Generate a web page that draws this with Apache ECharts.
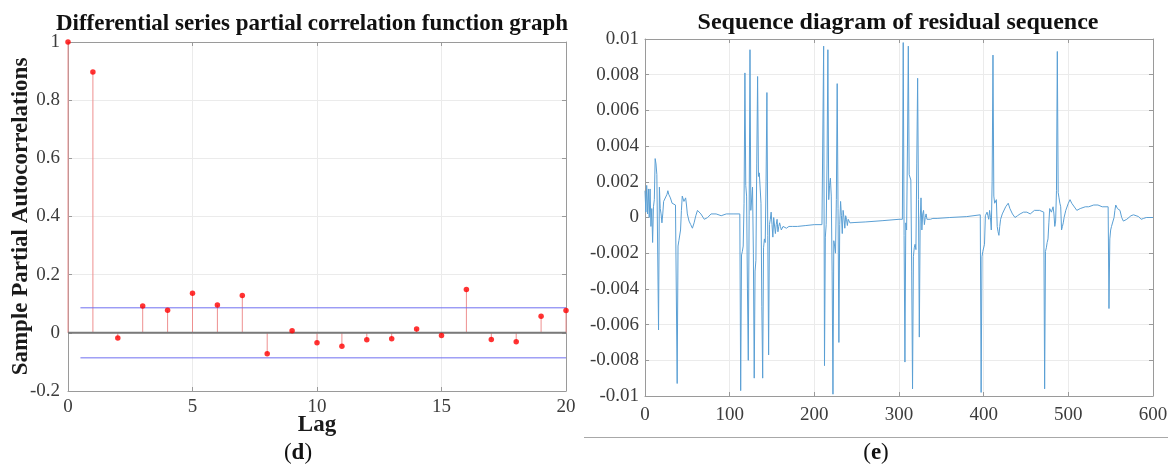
<!DOCTYPE html>
<html><head><meta charset="utf-8">
<script src="https://cdn.jsdelivr.net/npm/echarts@6/dist/echarts.min.js"></script>
<style>html,body{margin:0;padding:0;background:#fff}#c{width:1172px;height:470px}</style>
</head><body><div id="c"></div>
<script>
// ---- Panel (d): partial autocorrelation ----
const pacfTitle = 'Differential series partial correlation function graph';
const pacfYName = 'Sample Partial Autocorrelations';
const pacfXName = 'Lag';
const pacfLags = [0,1,2,3,4,5,6,7,8,9,10,11,12,13,14,15,16,17,18,19,20];
const pacfValues = [1,0.897,-0.018,0.092,0.078,0.136,0.096,0.128,-0.072,0.007,-0.034,-0.046,-0.024,-0.020,0.013,-0.009,0.149,-0.023,-0.031,0.057,0.077];
const confBound = 0.086;
const confLagStart = 0.5;
const confLagEnd = 20;

// ---- Panel (e): residual sequence ----
const resTitle = 'Sequence diagram of residual sequence';
const residualIndex = [
  0,1,2,3,4,5,6,7,8,9,10,11,12,13,14,15,16,17,18,19,20,21,22,23,24,26,27,28,30,32,34,36,37,
  38,39,40,41,42,43,44,45,46,47,48,49,50,52,54,56,58,60,62,64,66,68,70,72,74,76,78,80,84,90,96,104,112,
  113,114,115,116,117,118,119,120,121,122,123,124,125,126,127,128,129,130,131,132,133,134,135,136,137,
  138,139,140,141,142,143,144,145,146,147,148,149,150,151,152,153,154,155,156,157,158,159,160,161,163,
  165,167,170,174,180,190,200,209,
  210,211,212,213,214,215,216,217,218,219,220,221,222,223,224,225,226,227,228,229,230,231,232,233,234,
  235,236,237,238,239,240,241,242,244,248,260,280,300,304,
  305,306,307,308,309,310,311,312,313,314,315,316,317,318,319,320,321,322,323,324,325,326,327,328,329,
  330,331,332,333,334,335,337,340,345,360,380,396,
  397,398,399,400,401,402,403,404,405,406,407,408,409,410,411,412,413,414,415,416,417,418,419,420,422,
  424,426,429,431,432,434,437,440,443,447,451,455,460,466,471,
  472,473,474,475,476,477,478,479,480,481,482,483,484,485,486,487,488,489,490,491,492,493,494,495,496,
  497,500,502,504,506,510,514,516,520,524,530,535,540,547,
  548,549,550,551,552,553,554,555,556,557,558,559,560,561,563,565,567,569,571,574,577,580,583,586,589,
  592,596,600
];
const residualValue = [
  0.0015,0.0003,0.0018,0.0002,0.0016,0.0000,0.0016,-0.0005,0.0005,-0.0014,0.0006,0.0010,0.0033,0.0030,0.0024,0.0025,-0.0063,0.0017,0.0005,0.0002,-0.0003,0.0002,0.0009,0.0008,0.0010,0.0013,0.0015,0.0013,0.0011,0.0008,0.0008,0.0007,0.0007,
  -0.0093,-0.0016,-0.0013,-0.0012,-0.0007,0.0004,0.0012,0.0011,0.0009,0.0010,0.0011,0.0007,0.0002,-0.0002,-0.0004,-0.0006,-0.0003,0.0001,0.0004,0.0004,0.0002,0.0001,-0.0001,-0.0001,0.0000,0.0001,0.0002,0.0002,0.0002,0.0001,0.0002,0.0002,0.0002,
  -0.0097,-0.0021,-0.0019,-0.0016,0.0008,0.0081,0.0018,0.0012,-0.0040,-0.0080,0.0001,0.0094,0.0004,0.0005,0.0017,-0.0020,-0.0090,-0.0030,-0.0024,0.0030,0.0079,0.0023,0.0025,0.0025,0.0008,
  -0.0050,-0.0090,-0.0017,-0.0012,-0.0014,0.0020,0.0070,-0.0010,-0.0077,-0.0004,-0.0001,0.0003,-0.0004,-0.0011,0.0000,0.0001,-0.0009,-0.0004,-0.0001,-0.0008,-0.0005,-0.0003,-0.0005,-0.0007,-0.0005,
  -0.0006,-0.0006,-0.0005,-0.0005,-0.0005,-0.00045,-0.0004,-0.0004,
  -0.0003,0.0096,-0.0083,-0.0011,-0.0004,0.0030,0.0094,0.0010,0.0018,0.0022,0.0012,-0.0030,-0.0099,-0.0013,-0.0016,-0.0020,0.0010,0.0075,0.0005,-0.0070,-0.0004,0.0009,0.0001,-0.0009,0.0004,
  0.0000,-0.0006,0.0001,-0.0001,-0.00045,-0.0001,-0.0002,-0.0003,-0.0003,-0.00028,-0.00025,-0.00018,-0.0001,-0.0001,
  0.0098,-0.0010,-0.0081,-0.0003,-0.0007,0.0040,0.0096,0.0024,0.0024,0.0021,-0.0030,-0.0096,-0.0022,-0.0017,-0.0015,-0.0018,0.0030,0.0078,0.0010,-0.0067,-0.0002,0.0011,-0.0007,0.0002,0.0004,
  -0.0004,0.0000,0.0002,-0.0001,-0.0001,0.0000,-0.0001,-0.00005,-0.00005,0.0000,0.00005,0.00015,
  -0.0098,-0.0022,-0.0019,-0.0018,-0.0015,0.0001,0.0002,0.0003,0.0001,-0.0001,0.0004,0.0000,-0.0007,0.0020,0.0091,0.0012,0.0008,0.0009,0.0010,-0.0005,-0.0008,-0.0010,-0.0005,-0.0001,0.0002,
  0.0003,0.0006,0.0008,0.0005,0.0004,0.0002,0.0000,0.0001,0.0002,0.0003,0.0003,0.0002,0.0004,0.0004,0.0003,
  -0.0096,-0.0019,-0.0017,-0.0014,-0.0012,-0.0003,0.0005,0.0004,0.0003,0.0004,0.0006,0.0002,-0.0005,-0.0002,0.0015,0.0093,0.0014,0.0011,0.0008,0.0006,-0.0007,-0.0005,-0.0003,0.0000,0.0002,
  0.0004,0.0008,0.0010,0.0008,0.0007,0.0004,0.0005,0.0006,0.0006,0.0006,0.0007,0.0007,0.0006,0.0006,
  -0.0051,-0.0012,-0.0007,-0.0005,-0.0006,-0.0004,0.0000,0.0004,0.0007,0.0006,0.0005,0.0005,0.0006,0.0004,0.0000,-0.0002,-0.0003,-0.0001,0.0000,0.0001,0.00015,0.0001,0.00005,-0.0001,-0.00005,
  0.0000,0.0000,0.0000
];

const SERIF = "'Liberation Serif','DejaVu Serif',serif";
const fmt = v => String(parseFloat(v.toFixed(6)));

function mainAxis(gridIndex, position, min, max, interval, margin) {
  return {
    type: 'value', gridIndex, position, min, max, interval,
    axisLine: {show: true, onZero: false, lineStyle: {color: '#9a9a9a', width: 1}},
    axisTick: {show: true, inside: true, length: 4, lineStyle: {color: '#9a9a9a'}},
    axisLabel: {show: true, margin, color: '#3c3c3c', fontFamily: SERIF, fontSize: 19, formatter: fmt},
    splitLine: {show: true, lineStyle: {color: '#ebebeb', width: 1}}
  };
}
function boxAxis(gridIndex, position, min, max, interval) {
  return {
    type: 'value', gridIndex, position, min, max, interval,
    axisLine: {show: true, onZero: false, lineStyle: {color: '#9a9a9a', width: 1}},
    axisTick: {show: true, inside: true, length: 4, lineStyle: {color: '#9a9a9a'}},
    axisLabel: {show: false}, splitLine: {show: false}
  };
}

const chart = echarts.init(document.getElementById('c'), null, {renderer: 'canvas'});

const yLeft0 = mainAxis(0, 'left', -0.2, 1, 0.2, 8);
yLeft0.name = pacfYName;
yLeft0.nameLocation = 'middle';
yLeft0.nameGap = 35;
yLeft0.nameMoveOverlap = false;
yLeft0.nameTextStyle = {fontFamily: SERIF, fontWeight: 'bold', fontSize: 23, color: '#1a1a1a'};
const xBottom0 = mainAxis(0, 'bottom', 0, 20, 5, 7);
xBottom0.name = pacfXName;
xBottom0.nameLocation = 'middle';
xBottom0.nameGap = 23;
xBottom0.nameMoveOverlap = false;
xBottom0.nameTextStyle = {fontFamily: SERIF, fontWeight: 'bold', fontSize: 23, color: '#1a1a1a', verticalAlign: 'top'};

const option = {
  animation: false,
  backgroundColor: '#fff',
  grid: [
    {left: 68, top: 42, width: 498, height: 349},
    {left: 645, top: 39, width: 508, height: 357}
  ],
  xAxis: [
    xBottom0,
    boxAxis(0, 'top', 0, 20, 5),
    mainAxis(1, 'bottom', 0, 600, 100, 10),
    boxAxis(1, 'top', 0, 600, 100)
  ],
  yAxis: [
    yLeft0,
    boxAxis(0, 'right', -0.2, 1, 0.2),
    mainAxis(1, 'left', -0.01, 0.01, 0.002, 6),
    boxAxis(1, 'right', -0.01, 0.01, 0.002)
  ],
  series: [
    {
      type: 'custom', xAxisIndex: 0, yAxisIndex: 0, silent: true, z: 2,
      data: pacfLags.map((l, i) => [l, pacfValues[i]]),
      renderItem: (params, api) => {
        const p0 = api.coord([api.value(0), 0]);
        const p1 = api.coord([api.value(0), api.value(1)]);
        return {type: 'line', shape: {x1: p0[0], y1: p0[1], x2: p1[0], y2: p1[1]},
                style: {stroke: '#ee9090', lineWidth: 1}};
      }
    },
    {
      type: 'line', xAxisIndex: 0, yAxisIndex: 0, silent: true, z: 3, symbol: 'none',
      data: [[pacfLags[0], 0], [pacfLags[pacfLags.length - 1], 0]],
      lineStyle: {color: '#7a7a7a', width: 2}
    },
    {
      type: 'line', xAxisIndex: 0, yAxisIndex: 0, silent: true, z: 3, symbol: 'none',
      data: [[confLagStart, confBound], [confLagEnd, confBound]],
      lineStyle: {color: '#6f6ff0', width: 1}
    },
    {
      type: 'line', xAxisIndex: 0, yAxisIndex: 0, silent: true, z: 3, symbol: 'none',
      data: [[confLagStart, -confBound], [confLagEnd, -confBound]],
      lineStyle: {color: '#6f6ff0', width: 1}
    },
    {
      type: 'scatter', xAxisIndex: 0, yAxisIndex: 0, silent: true, z: 4,
      symbol: 'circle', symbolSize: 5.5,
      data: pacfLags.map((l, i) => [l, pacfValues[i]]),
      itemStyle: {color: '#ff0000'}
    },
    {
      type: 'line', xAxisIndex: 2, yAxisIndex: 2, silent: true, z: 3, symbol: 'none',
      data: residualIndex.map((x, i) => [x, residualValue[i]]),
      lineStyle: {color: '#5a9fd4', width: 1}
    }
  ],
  graphic: [
    {type: 'text', x: 312, y: 24, silent: true,
     style: {text: pacfTitle, fill: '#111', font: 'bold 23px ' + SERIF, textAlign: 'center', textVerticalAlign: 'middle'}},
    {type: 'text', x: 898, y: 23, silent: true,
     style: {text: resTitle, fill: '#111', font: 'bold 24px ' + SERIF, textAlign: 'center', textVerticalAlign: 'middle'}},
    {type: 'text', x: 298, y: 453, silent: true,
     style: {text: '({b|d})', fill: '#111', font: '23px ' + SERIF, textAlign: 'center', textVerticalAlign: 'middle',
             rich: {b: {fontWeight: 'bold', fontSize: 23, fontFamily: SERIF, fill: '#111'}}}},
    {type: 'text', x: 876, y: 453, silent: true,
     style: {text: '({b|e})', fill: '#111', font: '23px ' + SERIF, textAlign: 'center', textVerticalAlign: 'middle',
             rich: {b: {fontWeight: 'bold', fontSize: 23, fontFamily: SERIF, fill: '#111'}}}},
    {type: 'line', silent: true, shape: {x1: 584, y1: 437.5, x2: 1168, y2: 437.5},
     style: {stroke: '#a8a8a8', lineWidth: 1}}
  ]
};
chart.setOption(option);
</script>
</body></html>
